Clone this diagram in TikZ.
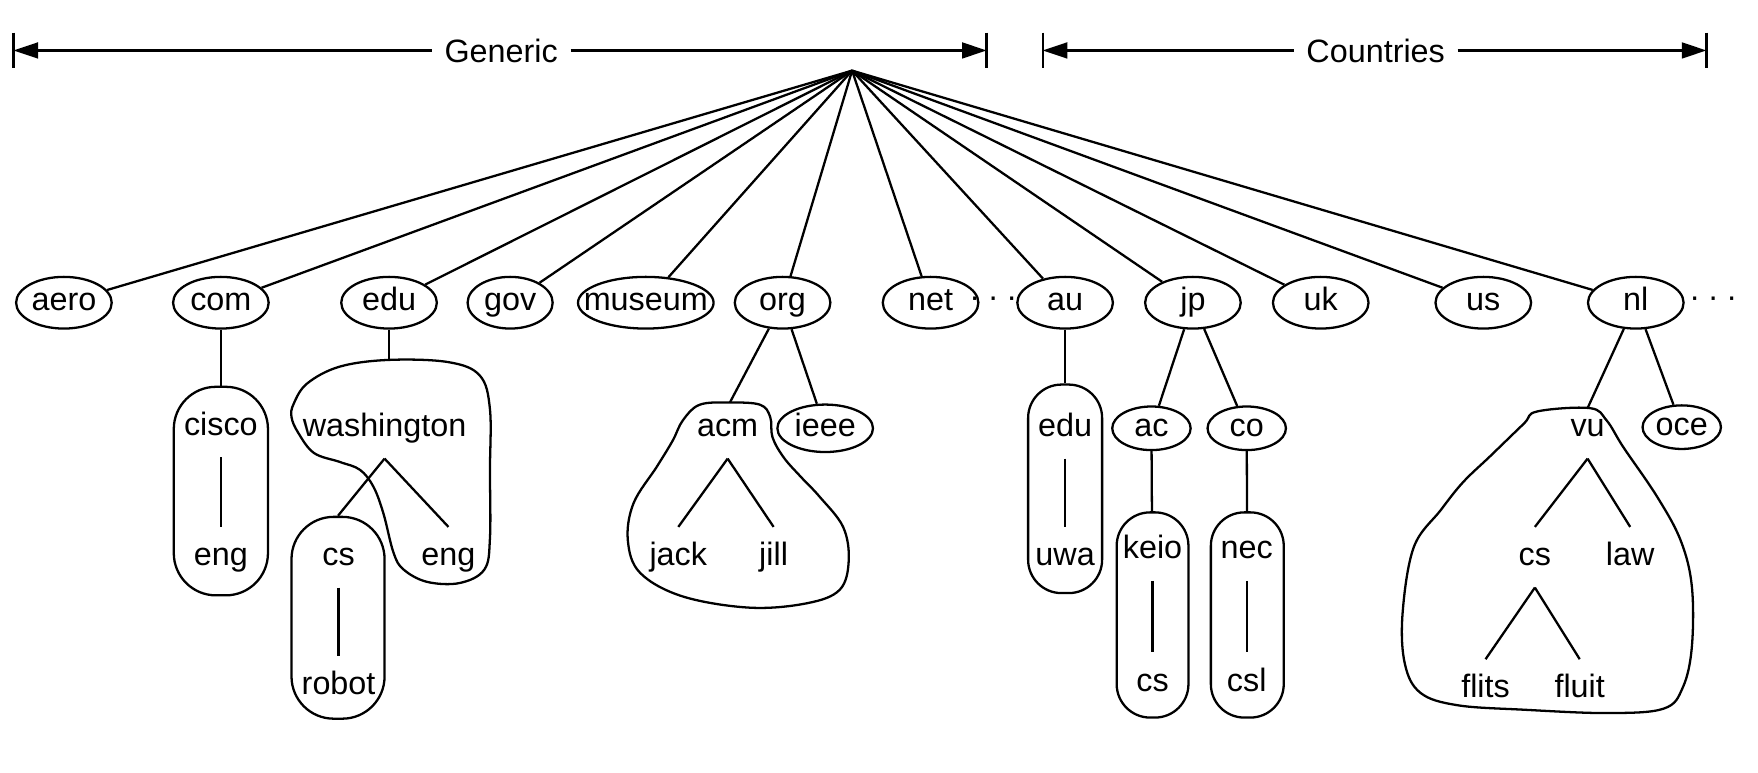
\documentclass[tikz,border=0pt]{standalone}
\usepackage{fontspec}
\setmainfont{Liberation Sans}
\usetikzlibrary{arrows.meta,shapes.geometric,fit}

\begin{document}
\begin{tikzpicture}[x=0.1121mm, y=-0.1121mm, line width=0.65pt,
    font=\fontsize{9.2}{11}\selectfont,
    dom/.style={draw, ellipse, inner sep=0pt, minimum width=27.2pt, minimum height=14.7pt, text height=6.6pt, text depth=1.9pt},
    sub/.style={dom, minimum width=22.3pt, minimum height=12.4pt},
    lbl/.style={inner sep=0pt, minimum height=16.6pt, text height=6.6pt, text depth=1.9pt},
    pill/.style={draw, rectangle, inner sep=0pt, rounded corners=#1},
    pill/.default=12pt,
    rangearrow/.style={-{Triangle[length=7pt,width=4.5pt]}}]
    \useasboundingbox (0,0) rectangle (1568,689);

    % Ranges
    \node (generic) at (447,45) {Generic};
    \coordinate (genL) at (12,45);
    \coordinate (genR) at (880,45);
    \draw[rangearrow] (generic) -- (genL);
    \draw[rangearrow] (generic) -- (genR);
    \draw (genL) ++(0,-16) -- ++(0,32);
    \draw (genR) ++(0,-16) -- ++(0,32);

    \node (countries) at (1227,45) {Countries};
    \coordinate (ctyL) at (930,45);
    \coordinate (ctyR) at (1522,45);
    \draw[rangearrow] (countries) -- (ctyL);
    \draw[rangearrow] (countries) -- (ctyR);
    \draw (ctyL) ++(0,-16) -- ++(0,32);
    \draw (ctyR) ++(0,-16) -- ++(0,32);

    % Top level domains
    \coordinate (root) at (760,63);
    \node[dom] (aero) at (57,270) {aero};
    \node[dom] (com) at (197,270) {com};
    \node[dom] (edu) at (347,270) {edu};
    \node[dom, minimum width=24.2pt] (gov) at (455,270) {gov};
    \node[dom, inner xsep=-4pt] (museum) at (576,270) {museum};
    \node[dom] (org) at (698,270) {org};
    \node[dom] (net) at (830,270) {net};
    \node (dotsa) at (886,270) {·\hspace{2.2pt}·\hspace{2.2pt}·};
    \node[dom] (au) at (950,270) {au};
    \node[dom] (jp) at (1064,270) {jp};
    \node[dom] (uk) at (1178,270) {uk};
    \node[dom] (us) at (1323,270) {us};
    \node[dom] (nl) at (1459,270) {nl};
    \node (dotsb) at (1528,270) {·\hspace{2.2pt}·\hspace{2.2pt}·};

    \foreach \d in {aero,com,edu,gov,museum,org,net,au,jp,uk,us,nl}
        \draw (root) -- (\d);

    % com
    \node[pill, fit={(155,345) (239,531)}] (ciscobox) {};
    \node[lbl] (cisco) at (197,381) {cisco};
    \node[lbl] (ciscoeng) at (197,497) {eng};
    \draw (com) -- (ciscobox);
    \draw (cisco.south) -- (ciscoeng.north);

    % edu
    \draw plot[smooth cycle, tension=0.6] coordinates {
        (347,321) (400,323) (428,335) (437,365) (437,420) (437,480)
        (432,508) (410,520) (381,519) (360,508) (351,493) (342,458)
        (333,434) (321,419) (303,412) (280,404) (266,386) (260,372)
        (262,360) (274,342) (303,327)};
    \coordinate (washtop) at (347,321);
    \node[lbl] (wash) at (343,382) {washington};
    \node[lbl] (washeng) at (400,497) {eng};
    \node[pill, fit={(260,461) (343,641)}] (csbox) {};
    \node[lbl] (wcs) at (302,497) {cs};
    \node[lbl] (robot) at (302,612) {robot};
    \draw (edu) -- (washtop);
    \draw (wash.south) -- (csbox.north);
    \draw (wash.south) -- (washeng.north);
    \draw (wcs.south) -- (robot.north);

    % org
    \draw plot[smooth cycle, tension=0.6] coordinates {
        (651,359) (678,361) (687,372) (689,390) (699,408) (714,425)
        (731,443) (752,470) (757,500) (749,526) (720,538) (669,542)
        (609,532) (571,511) (560,482) (565,449) (586,416) (600,393)
        (609,375) (624,361)};
    \coordinate (acmtop) at (651,359);
    \node[lbl] (acm) at (649,382) {acm};
    \node[lbl] (jack) at (605,497) {jack};
    \node[lbl] (jill) at (690,497) {jill};
    \node[dom, minimum height=13.5pt] (ieee) at (736,382) {ieee};
    \draw (org) -- (acmtop);
    \draw (org) -- (ieee);
    \draw (acm.south) -- (jack.north);
    \draw (acm.south) -- (jill.north);

    % au
    \node[pill=9.5pt, fit={(917,343) (983,529)}] (aubox) {};
    \node[lbl] (auedu) at (950,382) {edu};
    \node[lbl] (uwa) at (950,497) {uwa};
    \draw (au) -- (aubox);
    \draw (auedu.south) -- (uwa.north);

    % jp
    \node[sub] (ac) at (1027,382) {ac};
    \node[sub] (co) at (1112,382) {co};
    \node[pill=9.5pt, fit={(996,457) (1060,640)}] (keiobox) {};
    \node[lbl] (keio) at (1028,491) {keio};
    \node[lbl] (keiocs) at (1028,609) {cs};
    \node[pill=9.5pt, fit={(1080,457) (1145,640)}] (necbox) {};
    \node[lbl] (nec) at (1112,491) {nec};
    \node[lbl] (csl) at (1112,609) {csl};
    \draw (jp) -- (ac);
    \draw (jp) -- (co);
    \draw (ac) -- (keiobox);
    \draw (co) -- (necbox);
    \draw (keio.south) -- (keiocs.north);
    \draw (nec.south) -- (csl.north);

    % nl
    \draw plot[smooth cycle, tension=0.6] coordinates {
        (1371,367) (1418,364) (1433,375) (1448,399) (1478,443) (1499,482)
        (1509,523) (1509,577) (1501,613) (1484,632) (1434,636) (1359,633)
        (1300,629) (1267,618) (1253,592) (1251,547) (1261,488) (1285,455)
        (1305,430) (1329,407) (1359,378)};
    \coordinate (vutop) at (1416,364);
    \node[lbl] (vu) at (1416,382) {vu};
    \node[sub] (oce) at (1500,381) {oce};
    \node[lbl] (vucs) at (1369,497) {cs};
    \node[lbl] (law) at (1454,497) {law};
    \node[lbl] (flits) at (1325,615) {flits};
    \node[lbl] (fluit) at (1409,615) {fluit};
    \draw (nl) -- (vutop);
    \draw (nl) -- (oce);
    \draw (vu.south) -- (vucs.north);
    \draw (vu.south) -- (law.north);
    \draw (vucs.south) -- (flits.north);
    \draw (vucs.south) -- (fluit.north);
\end{tikzpicture}
\end{document}
